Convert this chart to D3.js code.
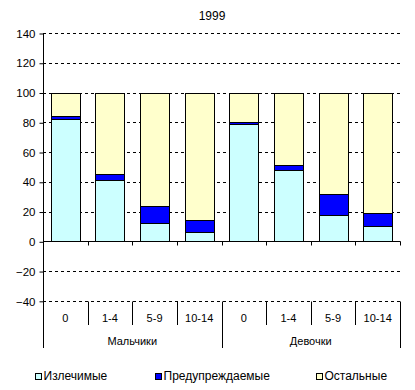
<!DOCTYPE html>
<html>
<head>
<meta charset="utf-8">
<script src="https://cdn.jsdelivr.net/npm/d3@7"></script>
<style>
  body { margin: 0; background: #fff; }
  svg text { font-family: "Liberation Sans", Arial, sans-serif; font-size: 11px; fill: #000; }
</style>
</head>
<body>
<svg id="chart" width="415" height="390"></svg>
<script>
const ages = ['0', '1-4', '5-9', '10-14'];
const groups = ['Мальчики', 'Девочки'];
const seriesNames = ['Излечимые', 'Предупреждаемые', 'Остальные'];
const curable = [82, 41, 12, 6, 79, 48, 17.5, 10];
const preventable = [2, 4.5, 11.5, 8, 1, 3.5, 14.5, 9];
const others = curable.map((c, i) => 100 - c - preventable[i]);
const yTicks = [-40, -20, 0, 20, 40, 60, 80, 100, 120, 140];
const colors = ['#ccffff', '#0000ff', '#ffffcc'];

const svg = d3.select('#chart');
const plotLeft = 43, plotRight = 400, plotTop = 33, zeroY = 241.3;

const cats = groups.flatMap((g) => ages.map((a) => g + '|' + a));
const rows = cats.map((c, i) => ({ key: c, v0: curable[i], v1: preventable[i], v2: others[i] }));

const x = d3.scaleBand().domain(cats).range([plotLeft, plotRight]).paddingInner(0.35).paddingOuter(0.175);
const y = d3.scaleLinear().domain([-40, 140]).range([zeroY + 40 * (zeroY - plotTop) / 140, plotTop]);

// title
svg.append('text').attr('x', 212).attr('y', 19.5).attr('text-anchor', 'middle')
  .style('font-size', '12px').text('1999');

// gridlines
svg.append('g').selectAll('line')
  .data(yTicks.filter((t) => t !== 0))
  .join('line')
  .attr('x1', plotLeft).attr('x2', plotRight)
  .attr('y1', (d) => Math.round(y(d)) + 0.5).attr('y2', (d) => Math.round(y(d)) + 0.5)
  .attr('stroke', '#000').attr('stroke-dasharray', '3,3');

// stacked bars
const stack = d3.stack().keys(['v0', 'v1', 'v2']);
const layers = stack(rows);
svg.append('g').selectAll('g')
  .data(layers)
  .join('g')
  .attr('fill', (d, i) => colors[i])
  .selectAll('rect')
  .data((d) => d)
  .join('rect')
  .attr('x', (d) => Math.round(x(d.data.key)) + 0.5)
  .attr('width', Math.round(x.bandwidth()))
  .attr('y', (d) => Math.round(y(d[1])) + 0.5)
  .attr('height', (d) => Math.round(y(d[0])) - Math.round(y(d[1])))
  .attr('stroke', '#000').attr('stroke-width', 1);

// y axis
const yAxis = d3.axisLeft(y).tickValues(yTicks).tickSize(4).tickPadding(4);
const ya = svg.append('g').attr('transform', `translate(${plotLeft + 0.5},0.5)`).call(yAxis);
ya.select('.domain').remove();
ya.selectAll('line').attr('stroke', '#000');
ya.selectAll('text').style('font-family', '"Liberation Sans", Arial, sans-serif').style('font-size', '11.5px');
svg.append('line').attr('x1', plotLeft + 0.5).attr('x2', plotLeft + 0.5).attr('y1', plotTop).attr('y2', 348).attr('stroke', '#000');

// zero axis
const zy = Math.round(y(0)) + 0.5;
svg.append('line').attr('x1', plotLeft).attr('x2', plotRight + 0.5).attr('y1', zy).attr('y2', zy).attr('stroke', '#000');
const step = x.step();
const bounds = d3.range(cats.length + 1).map((k) => Math.round(plotLeft + k * step) + 0.5);
svg.append('g').selectAll('line').data(bounds.slice(1)).join('line')
  .attr('x1', (d) => d).attr('x2', (d) => d).attr('y1', zy).attr('y2', zy + 4).attr('stroke', '#000');

// category separators
const sepTop = Math.round(y(-40)) + 0.5;
svg.append('g').selectAll('line').data(bounds.slice(1)).join('line')
  .attr('x1', (d) => d).attr('x2', (d) => d)
  .attr('y1', sepTop)
  .attr('y2', (d, i) => ((i + 1) % ages.length === 0 ? 348 : 325))
  .attr('stroke', '#000');

// category labels
svg.append('g').selectAll('text').data(cats).join('text')
  .attr('x', (d) => x(d) + x.bandwidth() / 2)
  .attr('y', 322)
  .attr('text-anchor', 'middle')
  .text((d) => d.split('|')[1]);

svg.append('g').selectAll('text').data(groups).join('text')
  .attr('x', (d, i) => plotLeft + (i * ages.length + ages.length / 2) * step)
  .attr('y', 345)
  .attr('text-anchor', 'middle')
  .text((d) => d);

// legend
const legendX = [35, 155, 316];
const lg = svg.append('g').selectAll('g').data(seriesNames).join('g')
  .attr('transform', (d, i) => `translate(${legendX[i]},373)`);
lg.append('rect').attr('x', 0.5).attr('y', 0.5).attr('width', 6).attr('height', 6)
  .attr('fill', (d, i) => colors[i]).attr('stroke', '#000');
lg.append('text').attr('x', 8.5).attr('y', 7).style('font-size', '12px').text((d) => d);
</script>
</body>
</html>
